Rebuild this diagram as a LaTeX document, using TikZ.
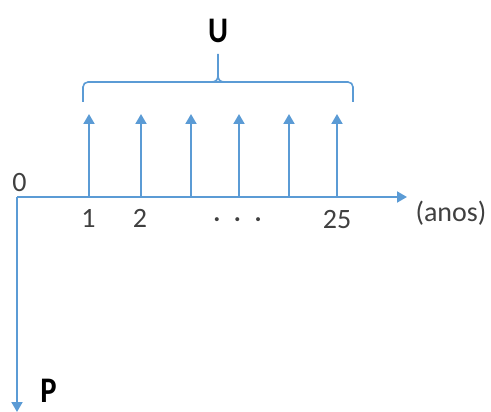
\documentclass[tikz,border=0pt]{standalone}
\usepackage{fontspec}
\setmainfont{Carlito}
\usetikzlibrary{arrows.meta}
\definecolor{flowcolor}{HTML}{5B9BD5}
\definecolor{labelcolor}{HTML}{404040}

\begin{document}
\begin{tikzpicture}[x=1pt,y=-1pt,
    flow/.style={-{Triangle[width=11pt,length=10pt]}, line width=2pt, flowcolor},
    brace/.style={line width=1.6pt, flowcolor},
    tick/.style={anchor=base, inner sep=0pt, text=labelcolor, font=\fontsize{28}{30}\selectfont},
    big/.style={anchor=base, inner sep=0pt, font=\fontsize{36}{38}\selectfont\bfseries}]
  \useasboundingbox (0,0) rectangle (491,412);
  % time line and P
  \coordinate (origin) at (17,197);
  \coordinate (axisend) at (407,197);
  \coordinate (down) at (17,412);
  \draw[flow] (origin) -- (axisend);
  \draw[flow] (origin) -- (down);
  % payments U
  \foreach \x [count=\i] in {89,141,191,239,289,337} {
    \coordinate (base\i) at (\x,197);
    \coordinate (top\i) at (\x,114);
    \draw[flow] (base\i) -- (top\i);
  }
  % brace over the payments
  \coordinate (bl) at (83,102);
  \coordinate (br) at (353,102);
  \coordinate (bmid) at (218,82);
  \coordinate (btip) at (218,54);
  \draw[brace, rounded corners=5pt] (bl) -- (83,82) -- (353,82) -- (br);
  \draw[brace] (211,82) .. controls (216,82) and (218,80) .. (218,75) -- (btip);
  \draw[brace] (225,82) .. controls (220,82) and (218,80) .. (218,75);
  % labels
  \node[big] (sumU) at (218,43) {\scalebox{0.85}[1]{U}};
  \node[big] (presP) at (48.5,402) {\scalebox{0.85}[1]{P}};
  \node[tick] (t0) at (19.5,192) {0};
  \node[tick] (t1) at (88.5,228) {1};
  \node[tick] (t2) at (140,228) {2};
  \node[tick] (tdots) at (237.5,228) {·\kern13.5pt·\kern13.5pt·};
  \node[tick] (t25) at (337,229) {25};
  \node[tick] (anos) at (451,222) {(anos)};
\end{tikzpicture}
\end{document}
